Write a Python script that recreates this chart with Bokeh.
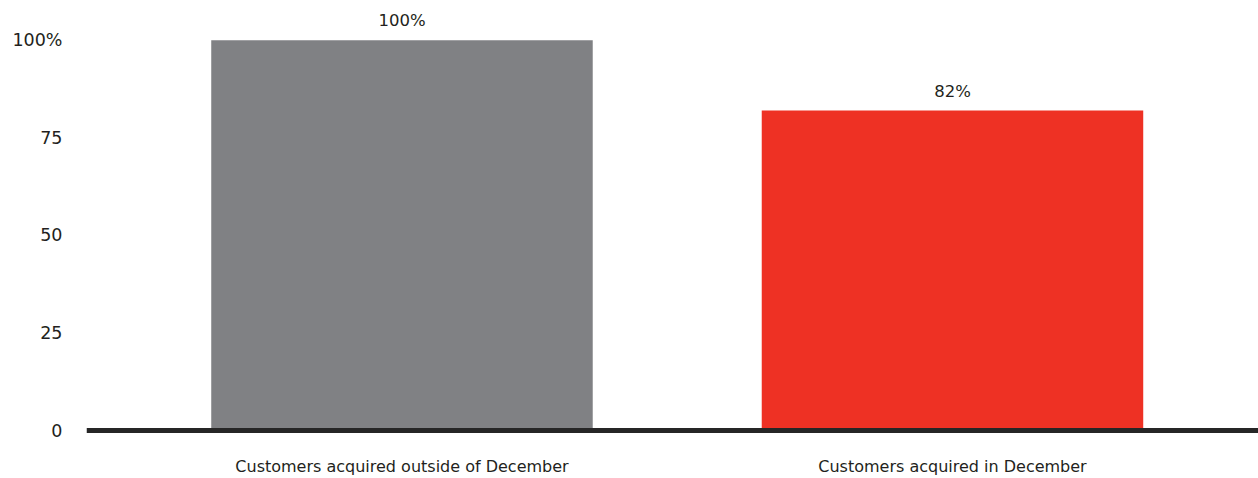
from bokeh.plotting import figure
from bokeh.models import ColumnDataSource, LabelSet, Span, FixedTicker
from bokeh.core.properties import value
from bokeh.embed import file_html
from bokeh.resources import INLINE

categories = ["Customers acquired outside of December", "Customers acquired in December"]
values = [100, 82]
colors = ["#808184", "#ee3124"]
y_ticks = [0, 25, 50, 75, 100]

FONT = "DejaVu Sans"
TEXT = "#231f20"

xs = list(range(len(categories)))
source = ColumnDataSource(dict(
    x=xs, top=values, color=colors, label=[f"{v}%" for v in values]
))

p = figure(width=1258, height=478, output_backend="svg", toolbar_location=None,
           x_range=(-0.5731, 1.5559), y_range=(-1.02, 110.2),
           min_border_left=86, min_border_right=0, min_border_top=0, min_border_bottom=42)
p.outline_line_color = None
p.grid.grid_line_color = None
p.background_fill_color = "white"
p.border_fill_color = "white"

p.vbar(x="x", top="top", width=0.693, color="color", source=source, line_color=None)

p.add_layout(Span(location=0, dimension="width", line_color="#262626", line_width=5))

labels = LabelSet(x="x", y="top", text="label", source=source, text_align="center",
                  text_baseline="bottom", y_offset=10, text_font=value(FONT),
                  text_font_size="16.5px", text_color=TEXT)
p.add_layout(labels)

p.xaxis.ticker = FixedTicker(ticks=xs)
p.xaxis.major_label_overrides = {i: c for i, c in enumerate(categories)}
p.xaxis.axis_line_color = None
p.xaxis.major_tick_line_color = None
p.xaxis.minor_tick_line_color = None
p.xaxis.major_tick_out = 0
p.xaxis.major_label_standoff = 22
p.xaxis.major_label_text_font = FONT
p.xaxis.major_label_text_font_size = "16px"
p.xaxis.major_label_text_color = TEXT

p.yaxis.ticker = FixedTicker(ticks=y_ticks)
p.yaxis.major_label_overrides = {100: "100%"}
p.yaxis.axis_line_color = None
p.yaxis.major_tick_line_color = None
p.yaxis.minor_tick_line_color = None
p.yaxis.major_tick_out = 0
p.yaxis.major_label_standoff = 24
p.yaxis.major_label_text_font = FONT
p.yaxis.major_label_text_font_size = "17.5px"
p.yaxis.major_label_text_color = TEXT

open("out.html", "w").write(file_html(p, INLINE))
